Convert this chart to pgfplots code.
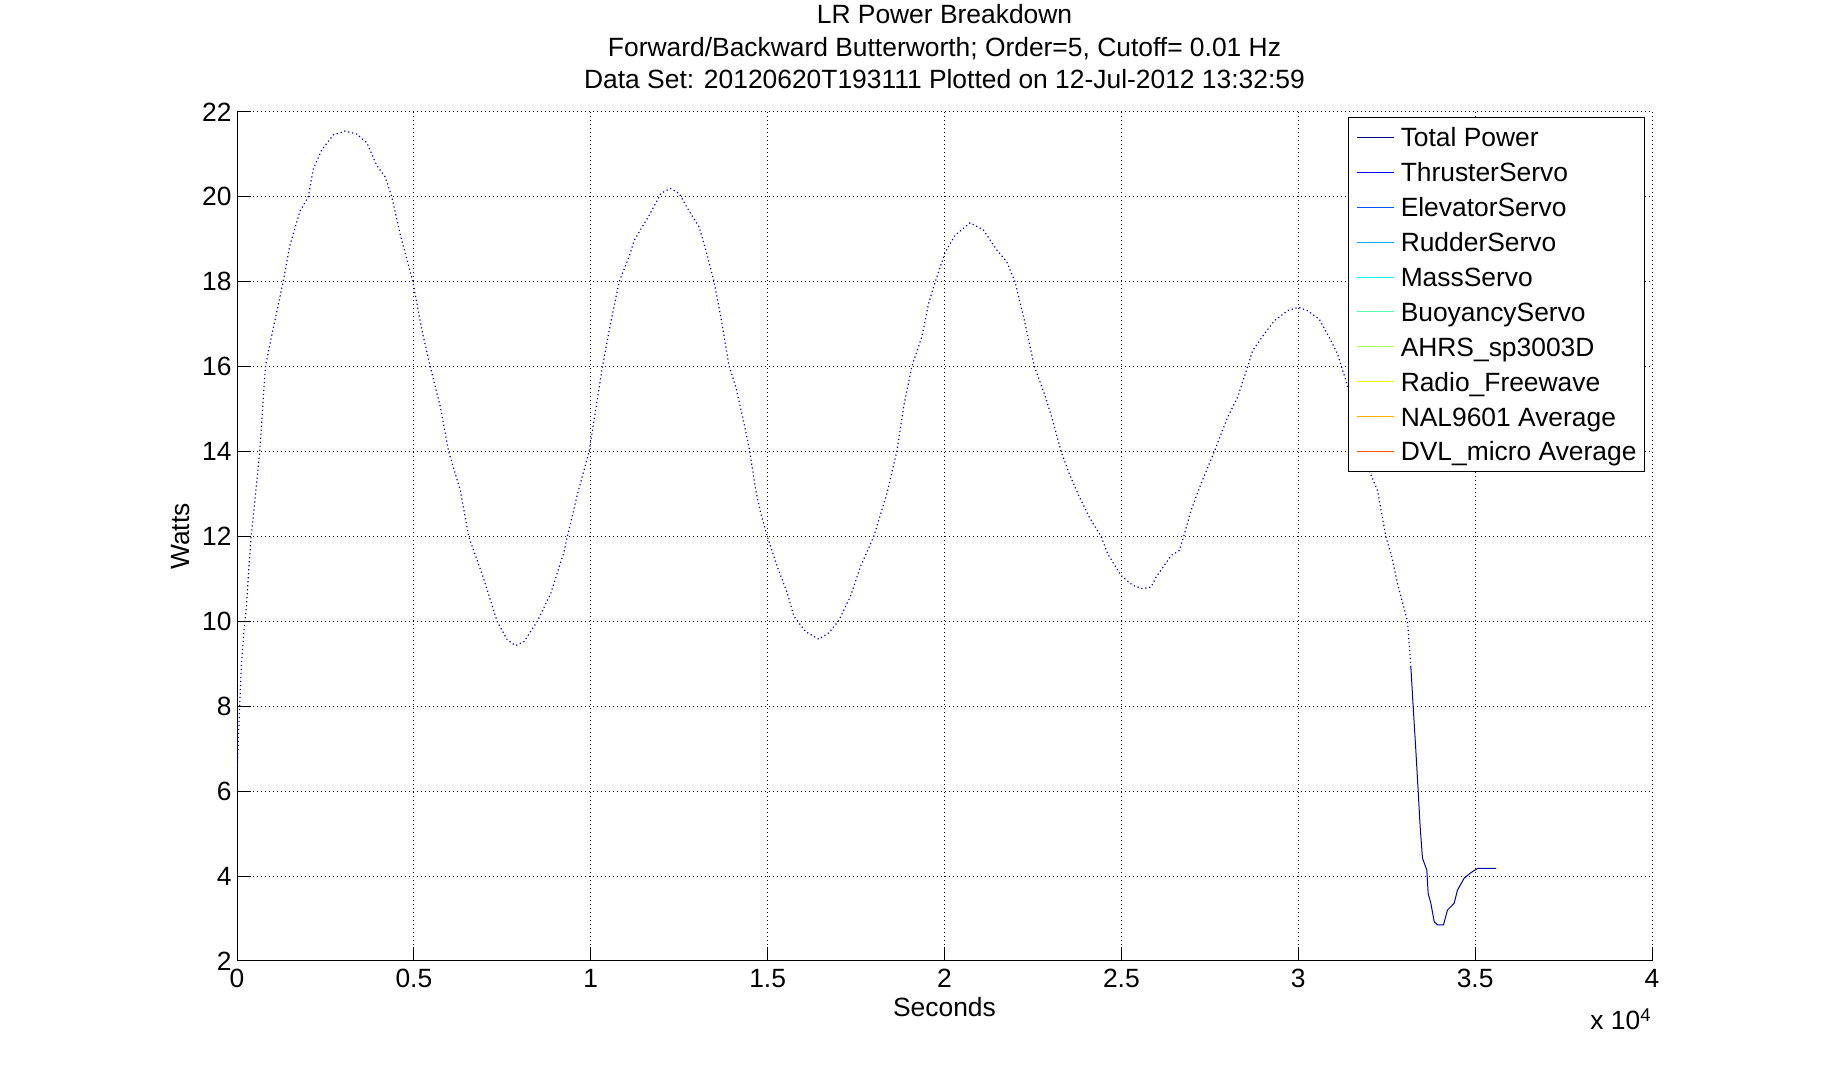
\documentclass[border=0pt]{standalone}
\usepackage{pgfplots}
\pgfplotsset{compat=1.18}
\usepackage{fontspec}
\setmainfont{Liberation Sans}
\newcommand\mf{\fontsize{13.2pt}{15.7pt}\selectfont}
\definecolor{c1}{rgb}{0,0,0.5625}
\definecolor{c2}{rgb}{0,0,1}
\definecolor{c3}{rgb}{0,0.3333,1}
\definecolor{c4}{rgb}{0,0.6667,1}
\definecolor{c5}{rgb}{0,1,1}
\definecolor{c6}{rgb}{0.3333,1,0.6667}
\definecolor{c7}{rgb}{0.6667,1,0.3333}
\definecolor{c8}{rgb}{1,1,0}
\definecolor{c9}{rgb}{1,0.6667,0}
\definecolor{c10}{rgb}{1,0.3333,0}
\definecolor{curve}{rgb}{0,0,0.72}
\begin{document}
\begin{tikzpicture}
\useasboundingbox (0,0) rectangle (912pt,540pt);
\begin{axis}[
  at={(118.5pt,59.5pt)}, anchor=south west,
  scale only axis, width=707.5pt, height=424.5pt,
  xmin=0, xmax=40000, ymin=2, ymax=22,
  axis x line=bottom, axis y line=left,
  axis line style={line width=0.5pt, -, black},
  xtick={0,5000,10000,15000,20000,25000,30000,35000,40000},
  xticklabels={0,0.5,1,1.5,2,2.5,3,3.5,4},
  scaled x ticks=false,
  ytick={2,4,6,8,10,12,14,16,18,20,22},
  tick align=inside, major tick length=7pt,
  tick style={line width=0.5pt, black},
  grid=major,
  major grid style={line width=0.5pt, black, dash pattern=on 0.5pt off 1.5pt},
  ticklabel style={font=\mf},
  /pgf/number format/assume math mode=true,
  xticklabel style={inner sep=0pt, anchor=north, yshift=-4pt},
  yticklabel style={inner sep=0pt, anchor=east, xshift=-2.5pt},
  title={LR Power Breakdown\\[0.4pt]Forward/Backward Butterworth; Order=5, Cutoff= 0.01 Hz\\[0.4pt]Data Set: 20120620T193111 Plotted on 12-Jul-2012 13:32:59},
  title style={font=\mf, align=center, at={(0.5,1)}, anchor=south, inner sep=0pt, yshift=5.5pt},
  xlabel={Seconds},
  every axis x label/.style={at={(axis description cs:0.5,0)}, anchor=base, yshift=-27.75pt, font=\mf, inner sep=0pt},
  ylabel={Watts},
  every axis y label/.style={at={(axis description cs:0,0.5)}, xshift=-28pt, rotate=90, anchor=center, font=\mf, inner sep=0pt},
  legend style={at={(rel axis cs:1,1)}, anchor=north east, xshift=-3.5pt, yshift=-2.5pt,
    draw=black, line width=0.5pt, fill=white, font=\mf,
    inner xsep=4pt, inner ysep=3.3pt, row sep=4.05pt, column sep=3pt,
    nodes={inner sep=0pt, text height=11.4pt, text depth=2pt}},
  legend cell align=left,
  legend image code/.code={\draw[#1, line width=0.5pt] (0pt,0pt) -- (18.5pt,0pt);},
  after end axis/.code={\node[font=\mf, anchor=base east, inner sep=0pt] at (rel axis cs:1,0) [yshift=-34.5pt] {x 10\textsuperscript{4}};},
]
\addplot[forget plot, color=curve, line width=0.6pt, dash pattern=on 0.6pt off 1.4pt] coordinates {
(0,6.5) (30,7.0) (75,8.0) (125,9.0) (200,9.8) (260,10.3) (330,11.2) (400,12.0) (500,12.8)
(643,14.0) (803,16.0) (973,16.7) (1304,18.0) (1493,18.85) (1777,19.66) (2013,20.0) (2155,20.65)
(2391,21.1) (2722,21.46) (3053,21.55) (3384,21.48) (3667,21.28) (3951,20.74) (4187,20.47)
(4376,20.0) (4612,19.12) (4972,18.0) (5227,16.86) (5463,16.0) (5747,15.06) (5983,14.0)
(6314,13.08) (6550,12.0) (6975,11.0) (7353,10.0) (7637,9.57) (7873,9.43) (8110,9.52)
(8488,10.0) (8866,10.65) (9244,11.64) (9338,12.0) (9622,12.99) (9953,14.0) (10331,16.0)
(10567,17.05) (10803,18.0) (11087,18.6) (11231,18.98) (11654,19.57) (11983,20.08) (12246,20.2)
(12500,20.08) (12735,19.73) (13064,19.29) (13252,18.75) (13487,18.0) (13675,17.18) (13910,16.02)
(14098,15.53) (14333,14.67) (14492,14.02) (14662,13.1) (14803,12.55) (14991,12.0) (15273,11.29)
(15555,10.67) (15743,10.12) (16072,9.76) (16448,9.58) (16730,9.73) (17012,10.02) (17341,10.59)
(17623,11.29) (18000,12.0) (18375,13.02) (18657,14.02) (18845,15.06) (19080,16.02) (19362,16.71)
(19550,17.49) (19738,18.0) (20020,18.7) (20302,19.1) (20725,19.39) (21100,19.22) (21477,18.75)
(21759,18.47) (21994,18.0) (22260,17.08) (22542,16.0) (22825,15.36) (23060,14.73) (23296,14.0)
(23531,13.47) (23814,12.93) (24096,12.45) (24426,12.0) (24614,11.59) (24991,11.08) (25320,10.85)
(25603,10.77) (25838,10.81) (25979,11.04) (26215,11.32) (26403,11.55) (26638,11.67) (26761,12.0)
(26968,12.61) (27250,13.24) (27627,14.0) (28003,14.81) (28286,15.28) (28569,16.0) (28710,16.38)
(29040,16.77) (29322,17.08) (29699,17.32) (30000,17.4) (30264,17.32) (30593,17.12) (30876,16.69)
(31111,16.3) (31346,15.67) (31680,14.6) (32006,13.55) (32241,13.08) (32476,12.0) (32650,11.5)
(32806,10.89) (33088,10.0) (33183,8.93)
};
\addplot[forget plot, color=curve, line width=0.5pt] coordinates {
(33183,8.93) (33248,8.0) (33324,6.96) (33390,6.0) (33446,5.16) (33512,4.42) (33635,4.14)
(33672,3.59) (33748,3.36) (33842,2.93) (33936,2.85) (34105,2.85) (34218,3.2) (34407,3.36)
(34501,3.67) (34689,3.95) (34878,4.08) (35066,4.18) (35593,4.18)
};
\addlegendimage{color=c1}
\addlegendimage{color=c2}
\addlegendimage{color=c3}
\addlegendimage{color=c4}
\addlegendimage{color=c5}
\addlegendimage{color=c6}
\addlegendimage{color=c7}
\addlegendimage{color=c8}
\addlegendimage{color=c9}
\addlegendimage{color=c10}
\legend{Total Power,ThrusterServo,ElevatorServo,RudderServo,MassServo,BuoyancyServo,AHRS\_sp3003D,Radio\_Freewave,NAL9601 Average,DVL\_micro Average}
\end{axis}
\end{tikzpicture}
\end{document}
